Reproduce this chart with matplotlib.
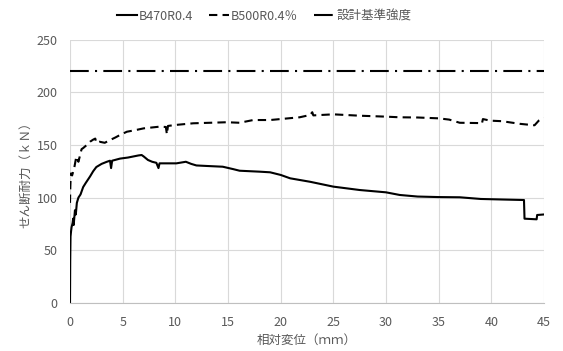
import matplotlib
matplotlib.use('Agg')
import matplotlib.pyplot as plt

plt.rcParams['font.family'] = ['Noto Sans CJK JP', 'DejaVu Sans']

# B470R0.4 (solid)
disp_a = [0, 0.02, 0.05, 0.1, 0.15, 0.25, 0.3, 0.35, 0.47, 0.55, 0.65, 0.8, 1.0, 1.25, 1.5, 1.9,
          2.2, 2.5, 3.0, 3.5, 3.8, 3.9, 4.0, 4.75, 5.5, 6.0, 6.5, 6.8, 7.0, 7.4, 7.8, 8.2, 8.4,
          8.5, 9.0, 10.1, 11.0, 11.5, 12.0, 13.0, 14.5, 15.5, 16.1, 18.0, 19.0, 20.0, 20.9,
          22.8, 25.0, 27.5, 30.0, 31.3, 33.0, 35.0, 37.0, 39.0, 41.0, 43.1, 43.15, 44.3, 44.35, 45.0]
load_a = [0, 40, 63, 68, 72, 76, 80, 74, 88, 84, 95, 100, 103, 110, 114, 120,
          125, 129, 132, 134, 135, 128, 135, 137, 138, 139, 140, 140.4, 139, 135.7, 134, 133, 128,
          132.5, 132.5, 132.5, 134, 132, 130.5, 130, 129.3, 127, 125.5, 124.6, 124, 121.5, 118.3,
          115, 110.4, 107.2, 105, 102.5, 101, 100.5, 100.3, 98.7, 98.2, 97.7, 80, 79.4, 83.5, 84]

# B500R0.4% (dashed)
disp_b = [0, 0.03, 0.06, 0.1, 0.2, 0.4, 0.6, 0.8, 1.1, 1.25, 1.6, 1.9, 2.2, 2.4, 2.5, 2.8,
          3.3, 3.8, 4.3, 4.75, 5.4, 6.2, 7.0, 8.5, 9.1, 9.2, 9.3, 10.1, 11.7, 13.3, 14.9, 16.1,
          17.4, 19.0, 21.8, 22.8, 23.0, 23.1, 25.0, 27.5, 30.0, 31.3, 33.0, 35.0, 36.0, 37.0,
          38.9, 39.1, 39.2, 39.9, 41.0, 42.7, 44.1, 44.5, 45.0]
load_b = [95, 110, 118, 123, 121, 128, 139, 134, 146, 147, 150, 153, 155, 156, 152, 153,
          152, 154.6, 157, 159.4, 162.5, 164, 165.7, 167.3, 167, 160, 168, 169, 170.5, 171, 171.5, 171,
          173.6, 173.6, 176.2, 178.4, 181, 178, 179, 177.7, 176.8, 176.2, 176, 175.2, 174, 171,
          170.7, 170, 174.5, 173, 172.5, 170, 168.6, 173, 175.5]

# design strength
design_x = [0, 45]
design_y = [220, 220]

labels = ['B470R0.4', 'B500R0.4％', '設計基準強度']

fig = plt.figure(figsize=(5.63, 3.51), dpi=100)
ax = fig.add_axes([70/563, 1-303/351, 474/563, 263.5/351])

ax.plot(disp_a, load_a, color='black', lw=1.5, label=labels[0])
ax.plot(disp_b, load_b, color='black', lw=1.5, ls=(0, (4, 2.5)), label=labels[1])
ax.plot(design_x, design_y, color='black', lw=1.5, ls=(0, (9, 3, 1, 3)), label=labels[2])

ax.set_xlim(0, 45)
ax.set_ylim(0, 250)
ax.set_xticks(range(0, 46, 5))
ax.set_yticks(range(0, 251, 50))
ax.grid(True, color='#d9d9d9', lw=0.8)
ax.set_axisbelow(True)
for s in ['top', 'right', 'left']:
    ax.spines[s].set_visible(False)
ax.spines['bottom'].set_color('#bfbfbf')
ax.tick_params(length=0, labelsize=9, colors='#595959')
ax.tick_params(axis='x', pad=9)
ax.tick_params(axis='y', pad=9)

ax.set_xlabel('相対変位（ｍｍ）', fontsize=9, color='#595959', labelpad=4)
ax.set_ylabel('せん断耐力（ｋＮ）', fontsize=9, color='#595959', labelpad=3)

fig.legend(loc='center', bbox_to_anchor=(264/563, 1-16/351), ncol=3, frameon=False,
           fontsize=9, labelcolor='#595959', handlelength=1.6, handletextpad=0.15,
           columnspacing=1.3)

fig.savefig('out.png', dpi=100)
